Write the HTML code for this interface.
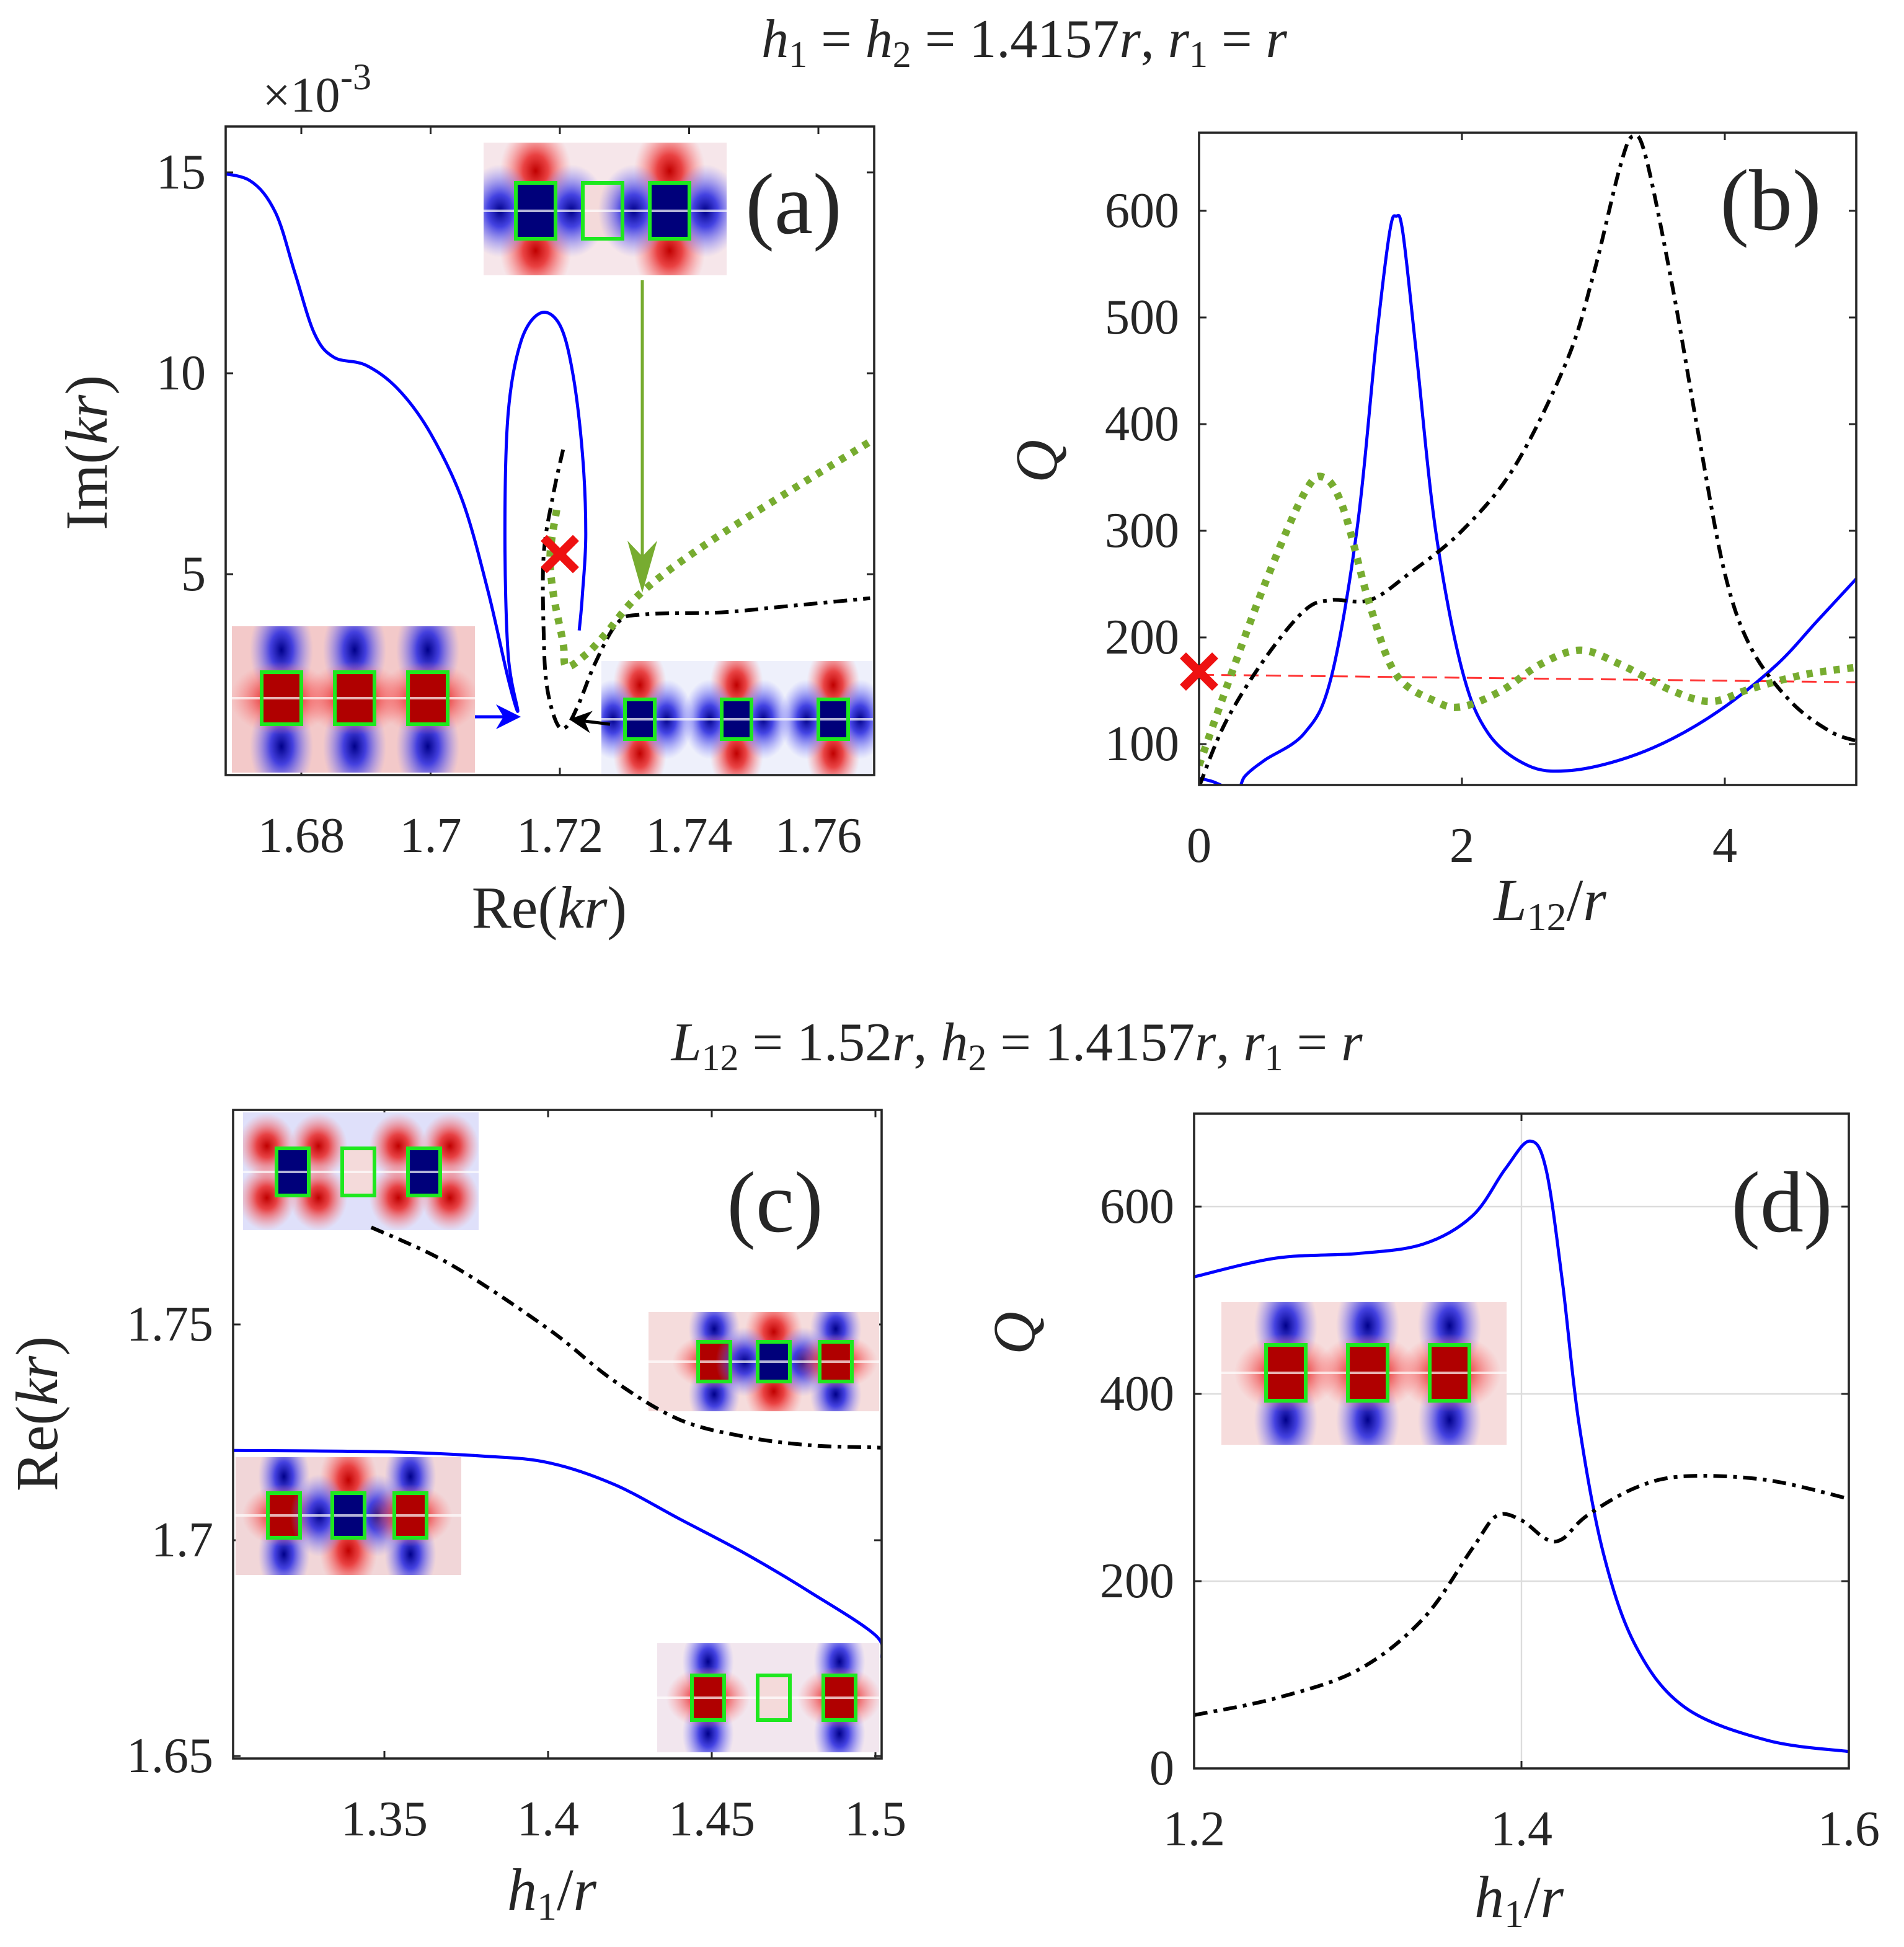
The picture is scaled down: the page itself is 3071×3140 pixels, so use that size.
<!DOCTYPE html>
<html><head><meta charset="utf-8"><style>
html,body{margin:0;padding:0;background:#fff;}
svg{display:block;}
text{font-family:"Liberation Serif","DejaVu Serif",serif;fill:#262626;}
.it{font-style:italic;}
</style></head><body>
<svg id="fig" width="3071" height="3140" viewBox="0 0 1535.5 1570" xmlns="http://www.w3.org/2000/svg" font-family="Liberation Serif, DejaVu Serif, serif">
<defs>
<radialGradient id="gR"><stop offset="0" stop-color="#c00000"/><stop offset="0.35" stop-color="#e83030" stop-opacity="0.9"/><stop offset="1" stop-color="#ff8080" stop-opacity="0"/></radialGradient>
<radialGradient id="gB"><stop offset="0" stop-color="#00008a"/><stop offset="0.35" stop-color="#3030e0" stop-opacity="0.9"/><stop offset="1" stop-color="#8080ff" stop-opacity="0"/></radialGradient>
</defs>
<g id="root"></g>
</svg>
<script>
// ---------- Panel (a) data ----------
const aBlueRe=[1.666,1.672,1.676,1.679,1.682,1.685,1.690,1.695,1.700,1.705,1.709,1.712,1.7135,1.712,1.7115,1.712,1.714,1.717,1.720,1.722,1.7235,1.724,1.7235,1.723];
const aBlueIm=[15.0,14.8,14.0,12.5,11.0,10.4,10.2,9.6,8.5,6.8,4.5,2.4,1.6,3.0,6.0,9.0,10.8,11.5,11.2,10.0,8.0,6.0,4.5,3.6];
const aBlackRe=[1.7205,1.719,1.7175,1.7175,1.718,1.7195,1.721,1.723,1.7255,1.729,1.733,1.745,1.755,1.768];
const aBlackIm=[8.1,7.0,5.5,3.5,2.2,1.3,1.2,1.8,2.8,3.8,4.0,4.05,4.2,4.4];
const aGreenRe=[1.7195,1.7185,1.719,1.7205,1.721,1.724,1.727,1.733,1.745,1.768];
const aGreenIm=[6.6,5.5,4.5,3.3,2.7,3.0,3.5,4.6,6.0,8.3];
const aMarkRe=[1.72], aMarkIm=[5.5];
const aXTicks=[1.68,1.70,1.72,1.74,1.76], aXLabels=["1.68","1.7","1.72","1.74","1.76"];
const aYTicks=[5,10,15], aYLabels=["5","10","15"];
// ---------- Panel (b) data ----------
const bBlueL=[0,0.1,0.2,0.3,0.35,0.5,0.8,1.0,1.2,1.35,1.45,1.5,1.55,1.65,1.8,2.0,2.2,2.5,2.8,3.2,3.6,4.0,4.4,4.7,5.0];
const bBlueQ=[68,65,60,58,70,85,110,160,300,480,580,595,580,470,300,170,110,80,75,85,105,135,175,215,255];
const bBlackL=[0,0.2,0.5,0.8,1.0,1.3,1.6,2.0,2.4,2.8,3.0,3.2,3.3,3.4,3.6,3.8,4.0,4.2,4.5,4.8,5.0];
const bBlackQ=[60,120,180,225,235,235,260,300,360,460,540,640,670,650,530,390,260,190,140,112,103];
const bGreenL=[0,0.2,0.5,0.8,0.95,1.1,1.3,1.5,1.8,2.0,2.3,2.6,2.9,3.2,3.6,3.9,4.2,4.6,5.0];
const bGreenQ=[80,150,250,335,350,320,230,165,140,135,150,175,188,175,150,140,152,165,172];
const bRedL=[0,5], bRedQ=[165,158];
const bMarkL=[0], bMarkQ=[168];
const bXTicks=[0,2,4], bXLabels=["0","2","4"];
const bYTicks=[100,200,300,400,500,600], bYLabels=["100","200","300","400","500","600"];
// ---------- Panel (c) data ----------
const cBlackH=[1.346,1.37,1.40,1.42,1.44,1.46,1.48,1.50,1.502];
const cBlackRe=[1.7725,1.764,1.749,1.737,1.728,1.724,1.722,1.7215,1.7214];
const cBlueH=[1.304,1.35,1.38,1.40,1.42,1.44,1.46,1.48,1.50,1.502];
const cBlueRe=[1.7208,1.7205,1.7195,1.718,1.713,1.705,1.697,1.688,1.678,1.6728];
const cXTicks=[1.35,1.40,1.45,1.50], cXLabels=["1.35","1.4","1.45","1.5"];
const cYTicks=[1.65,1.70,1.75], cYLabels=["1.65","1.7","1.75"];
// ---------- Panel (d) data ----------
const dBlueH=[1.2,1.25,1.3,1.34,1.37,1.39,1.405,1.415,1.425,1.435,1.45,1.47,1.5,1.55,1.6];
const dBlueQ=[525,545,550,560,590,640,670,640,520,370,230,130,65,30,18];
const dBlackH=[1.2,1.25,1.3,1.34,1.37,1.385,1.40,1.415,1.425,1.44,1.47,1.5,1.55,1.6];
const dBlackQ=[57,75,105,160,235,270,265,245,245,270,300,312,308,288];
const dXTicks=[1.2,1.4,1.6], dXLabels=["1.2","1.4","1.6"];
const dYTicks=[0,200,400,600], dYLabels=["0","200","400","600"];

const NS="http://www.w3.org/2000/svg";
const FONT="Liberation Serif, DejaVu Serif, serif";
const DASH='11,5,3,5';
const root=document.getElementById('root');
function mk(tag,attrs,parent){const e=document.createElementNS(NS,tag);for(const k in attrs)e.setAttribute(k,attrs[k]);if(tag==='text')e.setAttribute('font-family',FONT);(parent||root).appendChild(e);return e;}
function lin(d0,d1,p0,p1){return v=>p0+(v-d0)*(p1-p0)/(d1-d0);}
function smoothPath(xs,ys,sx,sy){
  const P=xs.map((x,i)=>[sx(x),sy(ys[i])]);let d="M"+P[0][0].toFixed(1)+","+P[0][1].toFixed(1);
  for(let i=0;i<P.length-1;i++){const p0=P[i-1]||P[i],p1=P[i],p2=P[i+1],p3=P[i+2]||p2;
    const c1=[p1[0]+(p2[0]-p0[0])/6,p1[1]+(p2[1]-p0[1])/6],c2=[p2[0]-(p3[0]-p1[0])/6,p2[1]-(p3[1]-p1[1])/6];
    d+=" C"+c1[0].toFixed(1)+","+c1[1].toFixed(1)+" "+c2[0].toFixed(1)+","+c2[1].toFixed(1)+" "+p2[0].toFixed(1)+","+p2[1].toFixed(1);}
  return d;}
function txt(x,y,s,size,opts,parent){const t=mk('text',Object.assign({x:x,y:y,'font-size':size,'text-anchor':'middle'},opts||{}),parent);t.textContent=s;return t;}
function axes(name,L,T,R,B,sx,sy,xt,xl,yt,yl,grid){
  const g=mk('g',{});
  
  
  if(grid){xt.forEach(v=>mk('line',{x1:sx(v),x2:sx(v),y1:T,y2:B,stroke:'#dcdcdc','stroke-width':1.2},g));
    yt.forEach(v=>mk('line',{x1:L,x2:R,y1:sy(v),y2:sy(v),stroke:'#dcdcdc','stroke-width':1.2},g));}
  xt.forEach((v,i)=>{const x=sx(v);mk('line',{x1:x,x2:x,y1:B,y2:B-6,stroke:'#262626','stroke-width':1.5},g);mk('line',{x1:x,x2:x,y1:T,y2:T+6,stroke:'#262626','stroke-width':1.5},g);
    const t=txt(x,B+62,xl[i],40,{},g);});
  yt.forEach((v,i)=>{const y=sy(v);mk('line',{x1:L,x2:L+6,y1:y,y2:y,stroke:'#262626','stroke-width':1.5},g);mk('line',{x1:R,x2:R-6,y1:y,y2:y,stroke:'#262626','stroke-width':1.5},g);
    const t=txt(L-16,y+13,yl[i],40,{'text-anchor':'end'},g);});
  return g;}
function frame(name,L,T,R,B){const r=mk('rect',{x:L,y:T,width:R-L,height:B-T,fill:'none',stroke:'#262626','stroke-width':1.8});
  }
function line(name,xs,ys,sx,sy,attrs){const p=mk('path',Object.assign({d:smoothPath(xs,ys,sx,sy),fill:'none','stroke-linejoin':'round'},attrs));
  return p;}
function clip(id,L,T,R,B){const c=mk('clipPath',{id:id});mk('rect',{x:L,y:T,width:R-L,height:B-T},c);}
function inset(name,x,y,w,h,cxs,cy,rw,rh,bg,pattern){
  const g=mk('g',{});
  
  
  mk('rect',{x:x,y:y,width:w,height:h,fill:bg},g);
  const cp='cp'+Math.round(x)+Math.round(y);const c=mk('clipPath',{id:cp},g);mk('rect',{x:x,y:y,width:w,height:h},c);
  const gg=mk('g',{'clip-path':'url(#'+cp+')'},g);
  cxs.forEach((cx,i)=>{const p=pattern[i];
    if(p==='h'){
      mk('ellipse',{cx:cx,cy:cy-h*0.3,rx:rw*0.9,ry:h*0.35,fill:'url(#gR)'},gg);mk('ellipse',{cx:cx,cy:cy+h*0.3,rx:rw*0.9,ry:h*0.35,fill:'url(#gR)'},gg);
      mk('ellipse',{cx:cx-rw*0.9,cy:cy,rx:rw*0.9,ry:h*0.35,fill:'url(#gB)'},gg);mk('ellipse',{cx:cx+rw*0.9,cy:cy,rx:rw*0.9,ry:h*0.35,fill:'url(#gB)'},gg);
      mk('rect',{x:cx-rw/2,y:cy-rh/2,width:rw,height:rh,fill:'#00007a'},gg);
    } else if(p==='q'){
      [-1,1].forEach(a=>[-1,1].forEach(b=>mk('ellipse',{cx:cx+a*rw*0.8,cy:cy+b*h*0.22,rx:rw*0.9,ry:h*0.28,fill:'url(#gR)'},gg)));
      mk('rect',{x:cx-rw/2,y:cy-rh/2,width:rw,height:rh,fill:'#00007a'},gg);
    } else if(p==='r'){
      mk('ellipse',{cx:cx,cy:cy-h*0.33,rx:rw*0.8,ry:h*0.35,fill:'url(#gB)'},gg);mk('ellipse',{cx:cx,cy:cy+h*0.33,rx:rw*0.8,ry:h*0.35,fill:'url(#gB)'},gg);
      mk('ellipse',{cx:cx,cy:cy,rx:rw*1.3,ry:rh*0.7,fill:'url(#gR)'},gg);
      mk('rect',{x:cx-rw/2,y:cy-rh/2,width:rw,height:rh,fill:'#b00000'},gg);
    } else if(p==='b'){
      mk('ellipse',{cx:cx,cy:cy-h*0.33,rx:rw*0.8,ry:h*0.35,fill:'url(#gR)'},gg);mk('ellipse',{cx:cx,cy:cy+h*0.33,rx:rw*0.8,ry:h*0.35,fill:'url(#gR)'},gg);
      mk('ellipse',{cx:cx,cy:cy,rx:rw*1.3,ry:rh*0.7,fill:'url(#gB)'},gg);
      mk('rect',{x:cx-rw/2,y:cy-rh/2,width:rw,height:rh,fill:'#0000a0'},gg);
    } else if(p==='w'){ mk('rect',{x:cx-rw/2,y:cy-rh/2,width:rw,height:rh,fill:'#f4dada'},gg);}
  });
  mk('line',{x1:x,x2:x+w,y1:cy,y2:cy,stroke:'#fff','stroke-width':2,opacity:0.7},gg);
  cxs.forEach(cx=>mk('rect',{x:cx-rw/2,y:cy-rh/2,width:rw,height:rh,fill:'none',stroke:'#1ee81e','stroke-width':3},g));
  return g;}
function cross(name,x,y,s){const g=mk('g',{stroke:'#ee1111','stroke-width':7,'stroke-linecap':'butt'});
  
  mk('line',{x1:x-s,y1:y-s,x2:x+s,y2:y+s},g);mk('line',{x1:x-s,y1:y+s,x2:x+s,y2:y-s},g);}
function arrow(name,x1,y1,x2,y2,col,hw,hl){const g=mk('g',{});
  const a=Math.atan2(y2-y1,x2-x1),bx=x2-hl*Math.cos(a),by=y2-hl*Math.sin(a);
  mk('line',{x1:x1,y1:y1,x2:bx+hl*0.3*Math.cos(a),y2:by+hl*0.3*Math.sin(a),stroke:col,'stroke-width':2.5},g);
  const px=-Math.sin(a)*hw,py=Math.cos(a)*hw,ix=x2-hl*0.7*Math.cos(a),iy=y2-hl*0.7*Math.sin(a);
  mk('path',{d:`M${x2},${y2} L${bx+px},${by+py} L${ix},${iy} L${bx-px},${by-py} Z`,fill:col},g);}

// ===== Titles =====
(function(){let t=mk('text',{x:826,y:46,'font-size':44,'text-anchor':'middle',class:'it'});

t.innerHTML='h<tspan font-size="30" dy="8" font-style="normal">1</tspan><tspan dy="-8" font-style="normal"> = </tspan>h<tspan font-size="30" dy="8" font-style="normal">2</tspan><tspan dy="-8" font-style="normal"> = 1.4157</tspan>r<tspan font-style="normal">, </tspan>r<tspan font-size="30" dy="8" font-style="normal">1</tspan><tspan dy="-8" font-style="normal"> = </tspan>r';
t=mk('text',{x:820,y:855,'font-size':44,'text-anchor':'middle',class:'it'});

t.innerHTML='L<tspan font-size="30" dy="8" font-style="normal">12</tspan><tspan dy="-8" font-style="normal"> = 1.52</tspan>r<tspan font-style="normal">, </tspan>h<tspan font-size="30" dy="8" font-style="normal">2</tspan><tspan dy="-8" font-style="normal"> = 1.4157</tspan>r<tspan font-style="normal">, </tspan>r<tspan font-size="30" dy="8" font-style="normal">1</tspan><tspan dy="-8" font-style="normal"> = </tspan>r';})();

// ===== Panel (a) =====
(function(){const L=182,T=102,R=705,B=625;
const sx=lin(1.68,1.76,243,660), sy=lin(15,5,139,463);
axes('panel-a',L,T,R,B,sx,sy,aXTicks,aXLabels,aYTicks,aYLabels,false);
clip('clipA',L,T,R,B);
inset('panel-a-inset-top',390,115,196,107,[432,486,540],170,32,45,'#f6e6ea',['h','w','h']);
inset('panel-a-inset-left',187,505,196,118,[227,286,345],563,32,42,'#f3c9c9',['r','r','r']);
inset('panel-a-inset-right',485,533,219,92,[516,594,672],580,24,32,'#eef0fb',['h','h','h']);
const g=mk('g',{'clip-path':'url(#clipA)'});
g.appendChild(line('panel-a-blue-curve',aBlueRe,aBlueIm,sx,sy,{stroke:'#0000ff','stroke-width':2.5}));
g.appendChild(line('panel-a-black-curve',aBlackRe,aBlackIm,sx,sy,{stroke:'#000','stroke-width':3,'stroke-dasharray':DASH}));
g.appendChild(line('panel-a-green-curve',aGreenRe,aGreenIm,sx,sy,{stroke:'#77ac30','stroke-width':6,'stroke-dasharray':'5,6'}));
cross('panel-a-marker',sx(aMarkRe[0]),sy(aMarkIm[0]),13);
arrow('panel-a-green-arrow',518,226,518,478,'#77ac30',12,42);
arrow('panel-a-blue-arrow',383,578,420,578,'#0000ff',10,20);
arrow('panel-a-black-arrow',492,584,459,580,'#000',9,18);
frame('panel-a',L,T,R,B);
let t=txt(243,90,'×10',40,{});
t=txt(287,72,'-3',30,{});
t=mk('text',{x:443,y:748,'font-size':48,'text-anchor':'middle'});t.innerHTML='Re(<tspan font-style="italic">kr</tspan>)';

t=mk('text',{x:0,y:0,'font-size':48,'text-anchor':'middle',transform:'translate(86,365) rotate(-90)'});t.innerHTML='Im(<tspan font-style="italic">kr</tspan>)';

t=txt(640,188,'(a)',70,{});
})();

// ===== Panel (b) =====
(function(){const L=967,T=107,R=1497,B=633;
const sx=lin(0,5,967,1497), sy=lin(600,100,170,600);
axes('panel-b',L,T,R,B,sx,sy,bXTicks,bXLabels,bYTicks,bYLabels,false);
clip('clipB',L,T,R,B);
const g=mk('g',{'clip-path':'url(#clipB)'});
g.appendChild(line('panel-b-red-dashed',bRedL,bRedQ,sx,sy,{stroke:'#ff3333','stroke-width':1.5,'stroke-dasharray':'12,6'}));
g.appendChild(line('panel-b-blue-curve',bBlueL,bBlueQ,sx,sy,{stroke:'#0000ff','stroke-width':2.5}));
g.appendChild(line('panel-b-black-curve',bBlackL,bBlackQ,sx,sy,{stroke:'#000','stroke-width':3,'stroke-dasharray':DASH}));
g.appendChild(line('panel-b-green-curve',bGreenL,bGreenQ,sx,sy,{stroke:'#77ac30','stroke-width':6,'stroke-dasharray':'5,6'}));
frame('panel-b',L,T,R,B);
cross('panel-b-marker',sx(bMarkL[0]),sy(bMarkQ[0]),13);
let t=mk('text',{x:1250,y:742,'font-size':48,'text-anchor':'middle',class:'it'});t.innerHTML='L<tspan font-size="32" dy="8" font-style="normal">12</tspan><tspan dy="-8" font-style="normal">/</tspan>r';

t=mk('text',{x:0,y:0,'font-size':48,'text-anchor':'middle',class:'it',transform:'translate(852,372) rotate(-90)'});t.textContent='Q';

t=txt(1428,185,'(b)',70,{});
})();

// ===== Panel (c) =====
(function(){const L=188,T=895,R=711,B=1418;
const sx=lin(1.35,1.50,310,706), sy=lin(1.75,1.65,1068,1416);
axes('panel-c',L,T,R,B,sx,sy,cXTicks,cXLabels,cYTicks,cYLabels,false);
clip('clipC',L,T,R,B);
inset('panel-c-inset-top',196,897,190,95,[236,289,342],945,26,38,'#dfe0fa',['q','w','q']);
inset('panel-c-inset-right',523,1058,186,80,[576,624,674],1098,26,32,'#f5dcdc',['r','h','r']);
inset('panel-c-inset-left',190,1175,182,95,[229,281,331],1222,26,36,'#f1d6d8',['r','h','r']);
inset('panel-c-inset-bottom',530,1325,179,88,[571,624,677],1369,26,36,'#f2e6ee',['r','w','r']);
const g=mk('g',{'clip-path':'url(#clipC)'});
g.appendChild(line('panel-c-black-curve',cBlackH,cBlackRe,sx,sy,{stroke:'#000','stroke-width':3,'stroke-dasharray':DASH}));
g.appendChild(line('panel-c-blue-curve',cBlueH,cBlueRe,sx,sy,{stroke:'#0000ff','stroke-width':2.5}));
frame('panel-c',L,T,R,B);
let t=mk('text',{x:445,y:1540,'font-size':48,'text-anchor':'middle',class:'it'});t.innerHTML='h<tspan font-size="32" dy="8" font-style="normal">1</tspan><tspan dy="-8" font-style="normal">/</tspan>r';

t=mk('text',{x:0,y:0,'font-size':48,'text-anchor':'middle',transform:'translate(46,1140) rotate(-90)'});t.innerHTML='Re(<tspan font-style="italic">kr</tspan>)';

t=txt(625,993,'(c)',70,{});
})();

// ===== Panel (d) =====
(function(){const L=963,T=898,R=1491,B=1426;
const sx=lin(1.2,1.6,963,1491), sy=lin(0,600,1426,973);
axes('panel-d',L,T,R,B,sx,sy,dXTicks,dXLabels,dYTicks,dYLabels,true);
clip('clipD',L,T,R,B);
inset('panel-d-inset',985,1050,230,115,[1037,1103,1169],1107,32,45,'#f6dcdc',['r','r','r']);
const g=mk('g',{'clip-path':'url(#clipD)'});
g.appendChild(line('panel-d-blue-curve',dBlueH,dBlueQ,sx,sy,{stroke:'#0000ff','stroke-width':2.5}));
g.appendChild(line('panel-d-black-curve',dBlackH,dBlackQ,sx,sy,{stroke:'#000','stroke-width':3,'stroke-dasharray':DASH}));
frame('panel-d',L,T,R,B);
let t=mk('text',{x:1225,y:1546,'font-size':48,'text-anchor':'middle',class:'it'});t.innerHTML='h<tspan font-size="32" dy="8" font-style="normal">1</tspan><tspan dy="-8" font-style="normal">/</tspan>r';

t=mk('text',{x:0,y:0,'font-size':48,'text-anchor':'middle',class:'it',transform:'translate(834,1075) rotate(-90)'});t.textContent='Q';

t=txt(1437,993,'(d)',70,{});
})();
</script>
</body></html>
